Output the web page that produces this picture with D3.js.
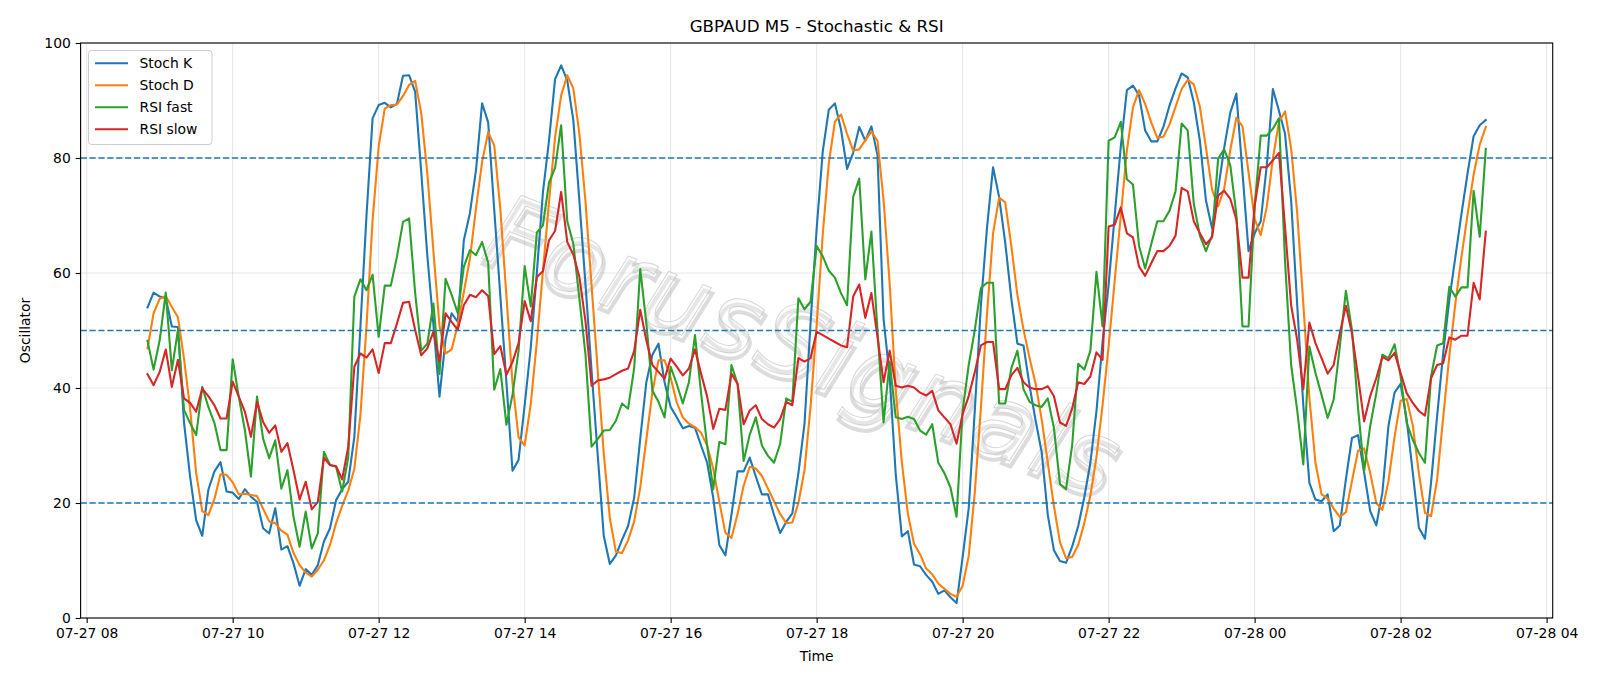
<!DOCTYPE html>
<html>
<head>
<meta charset="utf-8">
<script src="https://cdn.jsdelivr.net/npm/d3@7"></script>
<style>
  body { margin: 0; background: #fff; }
  svg { font-family: "DejaVu Sans", sans-serif; display: block; }
</style>
</head>
<body>
<svg id="chart" width="1600" height="686"></svg>
<script>
// GBPAUD M5, first bar 07-27 08:50, one value per 5 minutes
const firstBar = new Date(2024, 6, 27, 8, 50);

const stochK = [
  54.0, 56.6, 55.9, 55.6, 50.7, 50.6, 34.0, 24.6, 17.0, 14.3,
  22.3, 25.5, 27.1, 22.0, 21.8, 20.7, 22.4, 21.1, 20.2, 15.6,
  14.7, 19.1, 11.9, 12.5, 9.5, 5.6, 8.5, 7.5, 9.2, 13.3,
  15.6, 20.5, 22.4, 23.7, 31.5, 50.7, 70.0, 86.9, 89.2, 89.6,
  88.8, 89.4, 94.3, 94.4, 91.5, 77.5, 63.0, 51.0, 38.5, 48.5,
  53.0, 51.5, 65.7, 70.4, 77.9, 89.5, 86.2, 71.0, 56.0, 41.0,
  25.6, 27.5, 37.0, 47.0, 60.0, 74.0, 83.0, 93.7, 96.1, 93.5,
  86.6, 72.5, 58.0, 43.0, 28.5, 14.3, 9.4, 10.9, 13.6, 16.0,
  20.9, 31.2, 41.0, 45.8, 47.7, 41.0, 36.7, 34.9, 33.0, 33.4,
  33.1, 30.0, 27.0, 20.9, 12.7, 10.9, 18.0, 25.5, 25.5, 27.9,
  24.6, 21.5, 21.5, 17.9, 14.8, 16.7, 18.2, 25.2, 33.7, 51.3,
  67.7, 81.1, 88.4, 89.5, 85.0, 78.1, 80.9, 85.4, 83.0, 85.5,
  80.5, 52.0, 42.0, 25.0, 14.2, 15.1, 9.3, 9.0, 7.5, 6.3,
  4.2, 4.8, 3.6, 2.6, 10.6, 19.1, 36.1, 54.4, 67.8, 78.4,
  73.2, 65.3, 55.6, 47.7, 47.4, 40.4, 34.3, 28.8, 17.9, 11.8,
  9.9, 9.6, 12.4, 16.0, 21.0, 27.0, 36.0, 48.0, 58.0, 70.0,
  82.0, 91.8, 92.6, 90.9, 84.8, 82.9, 82.9, 85.4, 89.1, 92.1,
  94.7, 94.0, 89.7, 83.0, 72.6, 67.8, 74.5, 81.8, 87.9, 91.2,
  77.5, 63.8, 66.9, 69.0, 78.7, 92.0, 88.2, 84.2, 72.6, 54.4,
  37.0, 23.5, 20.6, 20.3, 21.5, 15.1, 16.1, 24.1, 31.3, 31.8,
  25.3, 18.6, 16.1, 21.8, 33.4, 39.2, 40.7, 34.5, 25.3, 15.7,
  13.8, 23.5, 35.1, 46.1, 55.3, 62.8, 70.3, 77.3, 83.8, 85.7,
  86.6
];

const stochD = [
  46.9, 53.0, 55.5, 56.0, 54.1, 52.3, 45.1, 36.4, 25.2, 18.6,
  17.9, 20.7, 25.0, 24.9, 23.6, 21.5, 21.6, 21.4, 21.2, 19.0,
  16.8, 16.5, 15.2, 14.5, 11.3, 9.2, 7.9, 7.2, 8.4, 10.0,
  12.7, 16.5, 19.5, 22.2, 25.9, 35.3, 50.7, 69.2, 82.0, 88.6,
  89.2, 89.3, 90.8, 92.7, 93.4, 87.8, 77.3, 63.8, 50.8, 46.0,
  46.7, 51.0, 56.7, 62.5, 71.3, 79.3, 84.5, 82.2, 71.1, 56.0,
  40.9, 31.4, 30.0, 37.2, 48.0, 60.3, 72.3, 83.6, 90.9, 94.4,
  92.1, 84.2, 72.4, 57.8, 43.2, 28.6, 17.4, 11.5, 11.3, 13.5,
  16.8, 22.7, 31.0, 39.3, 44.8, 44.8, 41.8, 37.5, 34.9, 33.8,
  33.2, 32.2, 30.0, 26.0, 20.2, 14.8, 13.9, 18.1, 23.0, 26.3,
  26.0, 24.7, 22.5, 20.3, 18.1, 16.5, 16.6, 20.0, 25.7, 36.7,
  50.9, 66.7, 79.1, 86.3, 87.6, 84.2, 81.3, 81.5, 83.1, 84.6,
  83.0, 72.7, 58.2, 39.7, 27.1, 18.1, 12.9, 11.1, 8.6, 7.6,
  6.0, 5.1, 4.2, 3.7, 5.6, 10.8, 21.9, 36.5, 52.8, 66.9,
  73.1, 72.3, 64.7, 56.2, 50.2, 45.2, 40.7, 34.5, 27.0, 19.5,
  13.2, 10.4, 10.6, 12.7, 16.5, 21.3, 28.0, 37.0, 47.3, 58.7,
  70.0, 81.3, 88.8, 91.8, 89.4, 86.2, 83.5, 83.7, 85.8, 88.9,
  92.0, 93.6, 92.8, 88.9, 81.8, 74.5, 71.6, 74.7, 81.4, 87.0,
  85.5, 77.5, 69.4, 66.6, 71.5, 79.9, 86.3, 88.1, 81.7, 70.4,
  54.7, 38.3, 27.0, 21.5, 20.8, 19.0, 17.6, 18.4, 23.8, 29.1,
  29.5, 25.2, 20.0, 18.8, 23.8, 31.5, 37.8, 38.1, 33.5, 25.2,
  18.3, 17.7, 24.1, 34.9, 45.5, 54.7, 62.8, 70.1, 77.1, 82.3,
  85.4
];

const rsiFast = [
  48.2, 43.2, 48.3, 56.6, 43.1, 50.1, 36.2, 33.9, 31.8, 40.2,
  36.7, 33.9, 29.2, 29.2, 45.0, 38.5, 32.7, 24.6, 38.5, 31.2,
  27.8, 30.9, 22.5, 25.7, 17.6, 12.4, 18.5, 12.1, 14.7, 28.9,
  26.6, 26.3, 22.0, 28.0, 55.9, 58.9, 57.0, 59.7, 48.9, 57.8,
  57.8, 62.8, 68.9, 69.5, 56.5, 46.5, 47.7, 54.7, 42.4, 59.0,
  56.2, 53.0, 61.1, 64.0, 63.1, 65.4, 61.8, 39.7, 43.3, 33.6,
  38.8, 46.5, 61.2, 54.2, 67.0, 68.3, 75.7, 78.3, 85.7, 69.0,
  65.1, 55.5, 45.8, 29.8, 31.1, 32.6, 32.7, 34.3, 37.3, 36.4,
  43.4, 60.7, 51.3, 39.5, 37.6, 34.9, 43.7, 40.7, 37.3, 41.0,
  49.2, 39.1, 30.0, 22.4, 30.6, 30.2, 44.0, 40.7, 27.3, 31.9,
  34.9, 30.0, 28.2, 27.0, 30.3, 38.2, 37.6, 55.6, 53.7, 55.0,
  64.7, 62.9, 60.4, 59.2, 56.5, 54.4, 73.2, 76.4, 58.9, 67.2,
  50.0, 34.0, 44.6, 34.9, 34.6, 35.0, 34.6, 32.6, 31.9, 33.7,
  27.0, 25.2, 22.7, 17.6, 36.1, 44.0, 50.1, 57.4, 58.3, 58.3,
  37.3, 37.3, 43.4, 46.5, 39.8, 37.6, 37.0, 36.7, 38.2, 33.1,
  23.3, 22.4, 30.0, 44.2, 43.2, 46.5, 60.2, 50.7, 83.0, 83.6,
  86.3, 76.3, 75.4, 64.7, 60.8, 65.0, 69.0, 69.0, 70.8, 74.2,
  86.0, 84.8, 72.0, 66.5, 63.8, 66.5, 79.9, 81.5, 78.7, 70.2,
  50.7, 50.7, 71.4, 83.9, 83.9, 85.1, 86.9, 62.0, 44.0, 36.1,
  26.7, 47.2, 42.6, 38.8, 34.8, 38.0, 47.2, 56.9, 50.1, 36.5,
  25.5, 33.4, 39.1, 45.8, 45.2, 47.6, 42.0, 33.9, 31.0, 28.7,
  27.0, 42.0, 47.4, 47.8, 57.6, 55.9, 57.5, 57.5, 74.3, 66.3,
  81.6
];

const rsiSlow = [
  42.4, 40.5, 42.8, 46.7, 40.2, 44.9, 38.2, 37.4, 35.9, 39.9,
  38.6, 37.0, 34.7, 34.7, 41.1, 38.5, 35.9, 31.5, 37.6, 34.1,
  32.2, 33.5, 28.9, 30.4, 25.7, 20.6, 23.7, 18.9, 20.2, 27.9,
  26.6, 26.4, 24.1, 29.8, 43.7, 46.0, 45.3, 46.7, 42.6, 47.8,
  47.8, 51.2, 54.8, 55.0, 50.1, 45.7, 46.9, 49.8, 44.6, 53.0,
  51.5, 50.1, 54.4, 56.2, 55.8, 57.0, 56.0, 45.9, 47.3, 42.3,
  44.5, 47.8, 55.1, 51.6, 59.3, 60.3, 65.7, 67.3, 74.1, 65.4,
  63.2, 59.3, 51.6, 40.4, 41.3, 41.5, 41.8, 42.4, 43.0, 43.4,
  46.4, 53.6, 48.3, 44.0, 42.8, 41.6, 45.1, 43.7, 42.2, 43.4,
  46.7, 42.5, 38.5, 32.9, 36.4, 36.2, 42.5, 40.7, 33.7, 36.1,
  37.0, 34.6, 33.7, 33.1, 34.6, 37.6, 37.0, 45.2, 44.6, 45.2,
  49.8, 49.2, 48.6, 48.0, 47.4, 47.1, 55.9, 58.0, 52.2, 56.5,
  48.9, 41.0, 46.5, 40.4, 40.1, 40.4, 40.1, 39.2, 38.7, 39.5,
  36.1, 34.9, 33.7, 30.3, 35.5, 38.6, 42.8, 47.4, 48.0, 48.0,
  39.8, 39.8, 42.2, 43.5, 41.0, 40.1, 39.8, 39.8, 40.3, 38.6,
  34.0, 33.4, 36.4, 41.0, 40.7, 42.0, 46.2, 44.9, 68.1, 68.4,
  71.4, 66.9, 66.2, 61.1, 59.5, 61.7, 63.8, 63.8, 64.7, 66.5,
  74.8, 74.2, 69.0, 66.9, 65.0, 66.2, 73.5, 74.3, 72.9, 69.3,
  59.2, 59.2, 71.7, 78.4, 78.4, 79.6, 80.9, 68.0, 54.4, 48.3,
  39.8, 51.4, 47.8, 45.2, 42.5, 44.0, 49.5, 54.3, 49.5, 42.0,
  34.2, 38.6, 41.7, 45.4, 44.8, 46.1, 42.6, 39.1, 37.4, 36.0,
  35.2, 41.7, 44.0, 44.3, 48.8, 48.4, 49.1, 49.1, 58.3, 55.4,
  67.2
];

const seriesNames = ["Stoch K", "Stoch D", "RSI fast", "RSI slow"];
const levels = [20, 50, 80];
const yTicks = [0, 20, 40, 60, 80, 100];

const colors = ["#1f77b4", "#ff7f0e", "#2ca02c", "#d62728"];
const allSeries = [stochK, stochD, rsiFast, rsiSlow];

const width = 1600;
const height = 686;
const margin = { top: 43, right: 47.3, bottom: 68, left: 80.6 };

const svg = d3.select("#chart");

const times = stochK.map((_, i) => d3.timeMinute.offset(firstBar, 5 * i));

// matplotlib style 5% padding on the time axis
const t0 = times[0].getTime();
const t1 = times[times.length - 1].getTime();
const pad = (t1 - t0) * 0.05;

const x = d3
  .scaleTime()
  .domain([new Date(t0 - pad), new Date(t1 + pad)])
  .range([margin.left, width - margin.right]);

const y = d3
  .scaleLinear()
  .domain([0, 100])
  .range([height - margin.bottom, margin.top]);

const xTicks = d3.timeHour.every(2).range(new Date(2024, 6, 27, 8), new Date(2024, 6, 28, 5));

// grid
const grid = svg.append("g");
grid
  .selectAll("line.gx")
  .data(xTicks)
  .join("line")
  .attr("x1", (d) => x(d))
  .attr("x2", (d) => x(d))
  .attr("y1", margin.top)
  .attr("y2", height - margin.bottom)
  .attr("stroke", "#b0b0b0")
  .attr("stroke-opacity", 0.3)
  .attr("stroke-width", 1.1);
grid
  .selectAll("line.gy")
  .data(yTicks)
  .join("line")
  .attr("x1", margin.left)
  .attr("x2", width - margin.right)
  .attr("y1", (d) => y(d))
  .attr("y2", (d) => y(d))
  .attr("stroke", "#b0b0b0")
  .attr("stroke-opacity", 0.3)
  .attr("stroke-width", 1.1);

// watermark
const wm = svg
  .append("g")
  .attr("transform", "translate(802,352) rotate(21)");
wm.append("text")
  .attr("text-anchor", "middle")
  .attr("dominant-baseline", "middle")
  .attr("x", 3)
  .attr("y", 5)
  .style("font-size", "100px")
  .style("font-style", "italic")
  .style("letter-spacing", "3px")
  .attr("fill", "none")
  .attr("stroke", "#a8a8a8")
  .attr("stroke-width", 4)
  .attr("stroke-opacity", 0.4)
  .text("ForusSignals");
wm.append("text")
  .attr("text-anchor", "middle")
  .attr("dominant-baseline", "middle")
  .style("font-size", "100px")
  .style("font-style", "italic")
  .style("letter-spacing", "3px")
  .attr("fill", "#ffffff")
  .attr("fill-opacity", 0.3)
  .attr("stroke", "#c4c4c4")
  .attr("stroke-width", 1)
  .attr("stroke-opacity", 0.7)
  .text("ForusSignals");

// series
const line = d3
  .line()
  .x((d, i) => x(times[i]))
  .y((d) => y(d));

svg
  .append("g")
  .selectAll("path")
  .data(allSeries)
  .join("path")
  .attr("d", (d) => line(d))
  .attr("fill", "none")
  .attr("stroke", (d, i) => colors[i])
  .attr("stroke-width", 2.1)
  .attr("stroke-linejoin", "round")
  .attr("stroke-linecap", "square");

// overbought / middle / oversold
svg
  .append("g")
  .selectAll("line")
  .data(levels)
  .join("line")
  .attr("x1", margin.left)
  .attr("x2", width - margin.right)
  .attr("y1", (d) => y(d))
  .attr("y2", (d) => y(d))
  .attr("stroke", "#1f77b4")
  .attr("stroke-width", 1.5)
  .attr("stroke-dasharray", "6.2,2.7");

// axes
const xAxis = svg
  .append("g")
  .attr("transform", `translate(0,${height - margin.bottom})`)
  .call(
    d3.axisBottom(x)
      .tickValues(xTicks)
      .tickFormat(d3.timeFormat("%m-%d %H"))
      .tickSize(4.9)
      .tickPadding(4.9)
  );
const yAxis = svg
  .append("g")
  .attr("transform", `translate(${margin.left},0)`)
  .call(d3.axisLeft(y).tickValues(yTicks).tickSize(4.9).tickPadding(4.9));

[xAxis, yAxis].forEach((a) => {
  a.select(".domain").remove();
  a.selectAll("line").attr("stroke", "#000").attr("stroke-width", 1.1);
  a.selectAll("text")
    .style("font-family", "'DejaVu Sans', sans-serif")
    .style("font-size", "13.9px")
    .attr("fill", "#000");
});

// frame
svg
  .append("rect")
  .attr("x", margin.left)
  .attr("y", margin.top)
  .attr("width", width - margin.left - margin.right)
  .attr("height", height - margin.top - margin.bottom)
  .attr("fill", "none")
  .attr("stroke", "#000")
  .attr("stroke-width", 1.1);

// labels
svg
  .append("text")
  .attr("x", (margin.left + width - margin.right) / 2)
  .attr("y", 32)
  .attr("text-anchor", "middle")
  .style("font-size", "16.7px")
  .text("GBPAUD M5 - Stochastic & RSI");

svg
  .append("text")
  .attr("x", (margin.left + width - margin.right) / 2)
  .attr("y", 661)
  .attr("text-anchor", "middle")
  .style("font-size", "13.9px")
  .text("Time");

svg
  .append("text")
  .attr("transform", `translate(30,${(margin.top + height - margin.bottom) / 2}) rotate(-90)`)
  .attr("text-anchor", "middle")
  .style("font-size", "13.9px")
  .text("Oscillator");

// legend
const legend = svg.append("g");
legend
  .append("rect")
  .attr("x", 88.5)
  .attr("y", 50.5)
  .attr("width", 123.5)
  .attr("height", 94)
  .attr("rx", 3)
  .attr("fill", "#fff")
  .attr("fill-opacity", 0.8)
  .attr("stroke", "#cccccc")
  .attr("stroke-width", 1);

const items = legend
  .selectAll("g")
  .data(seriesNames)
  .join("g")
  .attr("transform", (d, i) => `translate(0,${63.3 + i * 22})`);
items
  .append("line")
  .attr("x1", 95)
  .attr("x2", 128)
  .attr("stroke", (d, i) => colors[i])
  .attr("stroke-width", 2.1);
items
  .append("text")
  .attr("x", 139.5)
  .attr("dy", "0.35em")
  .style("font-size", "13.9px")
  .text((d) => d);
</script>
</body>
</html>
